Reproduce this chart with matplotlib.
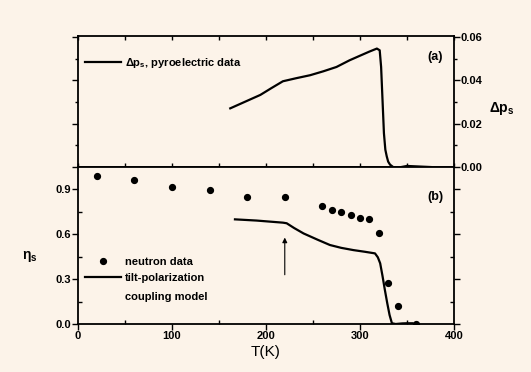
import numpy as np
import matplotlib.pyplot as plt
from matplotlib.ticker import MultipleLocator

# pyroelectric data, panel (a)
pyro_T = [162, 178, 194, 206, 218, 232, 247, 261, 275, 289, 300, 310, 318, 321,
          322.5, 324, 325.5, 327, 328.5, 330, 332, 335, 339, 344, 350, 360, 375]
pyro_dp = [0.0271, 0.0302, 0.0333, 0.0365, 0.0396, 0.0410, 0.0424, 0.0442, 0.0462,
           0.0493, 0.0514, 0.0533, 0.0547, 0.0539, 0.0462, 0.0309, 0.0156, 0.0080,
           0.0049, 0.0025, 0.0011, 0.0001, -0.0009, 0.0000, 0.0005, 0.0003, 0.0000]

# neutron data, panel (b)
neutron_T = [20, 60, 100, 140, 180, 220, 260, 270, 280, 290, 300, 310, 320, 330, 340, 360]
neutron_eta = [0.99, 0.96, 0.915, 0.895, 0.85, 0.845, 0.79, 0.76, 0.745, 0.73,
               0.705, 0.70, 0.61, 0.275, 0.12, 0.0]

# tilt-polarization coupling model
model_T = [167, 190, 210, 218, 222, 230, 240, 255, 268, 280, 293, 305, 316,
           319, 321.5, 324, 326.5, 329, 331.5, 334, 338, 345, 350, 356]
model_eta = [0.698, 0.690, 0.680, 0.676, 0.672, 0.640, 0.604, 0.562, 0.527, 0.508,
             0.493, 0.482, 0.471, 0.445, 0.405, 0.320, 0.227, 0.140, 0.060, 0.005,
             0.0, 0.004, 0.005, 0.005]

bg = "#fcf3e9"
plt.rcParams['font.family'] = ['Liberation Sans', 'DejaVu Sans']
plt.rcParams['font.weight'] = 'bold'
plt.rcParams['font.size'] = 8
plt.rcParams['mathtext.fontset'] = 'custom'
plt.rcParams['mathtext.bf'] = 'Liberation Sans:bold'
plt.rcParams['mathtext.rm'] = 'Liberation Sans:bold'
plt.rcParams['mathtext.default'] = 'bf'

fig = plt.figure(figsize=(5.31, 3.72), dpi=100, facecolor=bg)
ax_a = fig.add_axes([0.1469, 0.551, 0.708, 0.3522], facecolor=bg)
ax_b = fig.add_axes([0.1469, 0.129, 0.708, 0.422], facecolor=bg, sharex=ax_a)

for ax in (ax_a, ax_b):
    for s in ax.spines.values():
        s.set_linewidth(1.3)

# panel (a)
ax_a.plot(pyro_T, pyro_dp, color="black", lw=1.6, label=r"$\Delta p_s$, pyroelectric data")
ax_a.set_xlim(0, 400)
ax_a.set_ylim(0, 0.0605)
ax_a.yaxis.tick_right()
ax_a.set_yticks([0.0, 0.02, 0.04, 0.06])
ax_a.set_yticklabels(["0.00", "0.02", "0.04", "0.06"])
ax_a.yaxis.set_minor_locator(MultipleLocator(0.01))
ax_a.xaxis.set_major_locator(MultipleLocator(50))
ax_a.tick_params(axis="x", which="both", direction="in", top=True, bottom=True,
                 labelbottom=False, length=3, width=1)
ax_a.tick_params(axis="y", which="major", direction="out", length=4, width=1, pad=1,
                 left=True, labelleft=False)
ax_a.tick_params(axis="y", which="minor", direction="out", length=2, width=1, left=True)
ax_a.set_ylabel(r"$\Delta p_s$", rotation=0, fontsize=10, va="center", ha="center")
ax_a.yaxis.set_label_position("right")
ax_a.yaxis.set_label_coords(1.128, 0.51)
ax_a.legend(loc="upper left", frameon=False, handlelength=3.3, handletextpad=0.3,
            bbox_to_anchor=(0.0, 0.90), fontsize=8, borderaxespad=0.2)
ax_a.text(380, 0.051, "(a)", ha="center", va="center", fontsize=9)

# panel (b)
ax_b.plot(neutron_T, neutron_eta, "o", color="black", ms=4.2, label="neutron data")
ax_b.plot(model_T, model_eta, color="black", lw=1.6, label="tilt-polarization")
ax_b.set_ylim(0, 1.047)
ax_b.set_yticks([0.0, 0.3, 0.6, 0.9])
ax_b.yaxis.set_minor_locator(MultipleLocator(0.15))
ax_b.set_xticks([0, 100, 200, 300, 400])
ax_b.xaxis.set_minor_locator(MultipleLocator(50))
ax_b.tick_params(which="major", direction="out", length=4, width=1, right=True, pad=1)
ax_b.tick_params(which="minor", direction="in", length=3, width=1, right=True)
ax_b.set_xlabel("T(K)", fontsize=11, labelpad=3)
ax_b.set_ylabel(r"$\eta_s$", rotation=0, fontsize=10, va="center", ha="center")
ax_b.yaxis.set_label_coords(-0.128, 0.427)
ax_b.annotate("", xy=(220, 0.595), xytext=(220, 0.31),
              arrowprops=dict(arrowstyle="-|>", color="black", lw=0.8, mutation_scale=7))
leg = ax_b.legend(loc="upper left", frameon=False, handlelength=3.3, handletextpad=0.3,
                  bbox_to_anchor=(0.0, 0.47), fontsize=8, labelspacing=0.55,
                  borderaxespad=0.2)
ax_b.text(50, 0.18, "coupling model", ha="left", va="center", fontsize=8)
ax_b.text(380, 0.85, "(b)", ha="center", va="center", fontsize=9)

fig.savefig("out.png", dpi=100, facecolor=bg)
